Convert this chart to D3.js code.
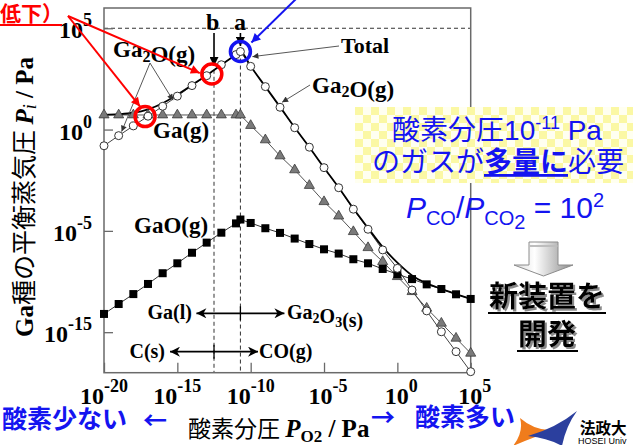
<!DOCTYPE html>
<html>
<head>
<meta charset="utf-8">
<script src="https://cdn.jsdelivr.net/npm/d3@7"></script>
<style>
  html, body { margin: 0; padding: 0; background: #fff; }
  svg { display: block; }
</style>
</head>
<body>
<script>
// Oxygen partial pressure (log10 Pa) at each computed point; -10.7 is point "a"
const logPO2 = [-20,-19,-18,-17,-16,-15,-14,-13,-12,-11,-10.7,-10,-9,-8,-7,-6,-5,-4,-3,-2,-1,0,1,2,3,4,5];
// Equilibrium vapour pressures of Ga species, log10 Pa
const gaG   = [0.72,0.72,0.72,0.72,0.72,0.72,0.72,0.72,0.72,0.72,0.72,0.2,-0.51,-1.3,-1.99,-2.76,-3.56,-4.27,-5.04,-5.83,-6.52,-7.26,-8.0,-8.82,-9.56,-10.3,-11.04];
const ga2OG = [-0.8,-0.3,0.18,0.66,1.15,1.65,2.17,2.66,3.2,3.7,3.85,3.12,2.12,1.1,0.09,-0.87,-1.88,-2.87,-3.93,-4.92,-5.94,-6.85,-7.92,-8.95,-9.98,-10.96,-11.95];
const gaOG  = [-9.1,-8.61,-8.12,-7.62,-7.09,-6.6,-6.08,-5.58,-5.09,-4.63,-4.44,-4.61,-4.87,-5.1,-5.38,-5.65,-5.91,-6.12,-6.4,-6.6,-6.88,-7.14,-7.38,-7.64,-7.87,-8.13,-8.36];
const totalP = [0.73,0.76,0.83,1.0,1.3,1.73,2.2,2.68,3.2,3.7,3.85,3.12,2.12,1.12,0.1,-0.87,-1.88,-2.86,-3.9,-4.86,-5.8,-6.57,-7.2,-7.59,-7.86,-8.12,-8.36];

// Axis ticks and the exponents printed beside them
const xTickValues = [1e-20,1e-15,1e-10,1e-5,1e0,1e5];
const xTickLabels = ["-20","-15","-10","-5","0","5"];
const yTickValues = [1e5,1e0,1e-5,1e-10];
const yTickLabels = ["5","0","-5","-15"];

// Phase boundaries: a = Ga(l)/Ga2O3(s), b = C(s)/CO(g)
const aLogPO2 = -10.7;
const bLogPO2 = -12.5;
const bLogP = 2.95;

const SERIF = "'Liberation Serif','Times New Roman',serif";
const SANS = "'Liberation Sans',Arial,'Noto Sans CJK JP',sans-serif";
const CJK = "'Noto Sans CJK JP','Noto Sans',sans-serif";
const BLUE = "#1414f0";
const RED = "#ff0000";

const W = 633, H = 445;
const svg = d3.select("body").append("svg").attr("width", W).attr("height", H);
const defs = svg.append("defs");

function marker(id, color, w, h, stealth) {
  defs.append("marker").attr("id", id)
    .attr("viewBox", "0 0 10 10").attr("refX", 10).attr("refY", 5)
    .attr("markerUnits", "userSpaceOnUse")
    .attr("markerWidth", w).attr("markerHeight", h)
    .attr("orient", "auto-start-reverse")
    .append("path")
    .attr("d", stealth ? "M0,0 L10,5 L0,10 L3,5 Z" : "M0,0 L10,5 L0,10 Z")
    .attr("fill", color);
}
marker("hBlack", "#000", 9, 9, false);
marker("hLead", "#333", 8, 6, false);
marker("hPhase", "#000", 14, 10, true);
marker("hRed", RED, 11, 9, false);
marker("hBlue", BLUE, 11, 9, false);

// yellow checker tile for the note box
const pat = defs.append("pattern").attr("id", "chk")
  .attr("patternUnits", "userSpaceOnUse").attr("width", 16).attr("height", 16)
  .attr("x", 355).attr("y", 107);
pat.append("rect").attr("width", 16).attr("height", 16).attr("fill", "#fffff0");
pat.append("rect").attr("width", 8).attr("height", 8).attr("fill", "#fbf8a4");
pat.append("rect").attr("x", 8).attr("y", 8).attr("width", 8).attr("height", 8).attr("fill", "#fbf8a4");

const grad = defs.append("linearGradient").attr("id", "arrowGrad")
  .attr("x1", "0").attr("x2", "1").attr("y1", "0").attr("y2", "0");
grad.append("stop").attr("offset", "0").attr("stop-color", "#d8d8d8");
grad.append("stop").attr("offset", "0.35").attr("stop-color", "#ffffff");
grad.append("stop").attr("offset", "1").attr("stop-color", "#8a8a8a");

// Scales
const x = d3.scaleLog().domain([1e-20, 1e5]).range([104, 470.7]);
const y = d3.scaleLog().domain([1e-12, 1e6]).range([372.7, 8]);
const px = e => x(Math.pow(10, e));
const py = e => y(Math.pow(10, e));

const plot = svg.append("g");

// 1 atm reference line and phase-boundary lines
plot.append("line")
  .attr("x1", x.range()[0]).attr("x2", x.range()[1])
  .attr("y1", y(1e5)).attr("y2", y(1e5))
  .attr("stroke", "#333").attr("stroke-width", 1).attr("stroke-dasharray", "4,3");
plot.append("line")
  .attr("x1", px(bLogPO2)).attr("x2", px(bLogPO2))
  .attr("y1", py(bLogP)).attr("y2", y.range()[0])
  .attr("stroke", "#333").attr("stroke-width", 1).attr("stroke-dasharray", "4,3");
plot.append("line")
  .attr("x1", px(aLogPO2)).attr("x2", px(aLogPO2))
  .attr("y1", py(3.85)).attr("y2", y.range()[0])
  .attr("stroke", "#333").attr("stroke-width", 1).attr("stroke-dasharray", "4,3");

// Axes with inward ticks
const xAxis = d3.axisBottom(x).tickValues(xTickValues).tickSize(-10).tickFormat(() => "");
const yAxis = d3.axisLeft(y).tickValues(yTickValues).tickSize(-9).tickFormat(() => "");
const gx = plot.append("g").attr("transform", `translate(0,${y.range()[0]})`).call(xAxis);
const gy = plot.append("g").attr("transform", `translate(${x.range()[0]},0)`).call(yAxis);
[gx, gy].forEach(g => {
  g.select(".domain").remove();
  g.selectAll(".tick line").attr("stroke", "#6a6a6a").attr("stroke-width", 1.3);
});
// frame
plot.append("rect")
  .attr("x", x.range()[0]).attr("y", y.range()[1])
  .attr("width", x.range()[1] - x.range()[0]).attr("height", y.range()[0] - y.range()[1])
  .attr("fill", "none").attr("stroke", "#6a6a6a").attr("stroke-width", 1.5);

function powLabel(g, xx, yy, exp, anchor) {
  const t = g.append("text").attr("x", xx).attr("y", yy).attr("text-anchor", anchor)
    .attr("font-family", SERIF).attr("font-weight", "bold").attr("font-size", 24).attr("fill", "#000");
  t.append("tspan").text("10");
  t.append("tspan").attr("dy", -12).attr("font-size", 18).text(exp);
}
xTickValues.forEach((v, i) => powLabel(svg, x(v) + (+xTickLabels[i] > -10 ? 4 : 0), 404, xTickLabels[i], "middle"));
yTickValues.forEach((v, i) => powLabel(svg, 92, y(v) + 10, yTickLabels[i], "end"));

// Series lines
const line = d3.line().x((d, i) => px(logPO2[i])).y(d => py(d));
plot.append("path").datum(gaG).attr("d", line).attr("fill", "none").attr("stroke", "#555").attr("stroke-width", 1);
plot.append("path").datum(ga2OG).attr("d", line).attr("fill", "none").attr("stroke", "#444").attr("stroke-width", 1);
plot.append("path").datum(gaOG).attr("d", line).attr("fill", "none").attr("stroke", "#333").attr("stroke-width", 1);
plot.append("path").datum(totalP).attr("d", line.curve(d3.curveMonotoneX)).attr("fill", "none")
  .attr("stroke", "#000").attr("stroke-width", 1.8);

// Markers
plot.append("g").selectAll("path").data(gaG).join("path")
  .attr("d", d3.symbol(d3.symbolTriangle, 44)())
  .attr("transform", (d, i) => `translate(${px(logPO2[i])},${py(d)})`)
  .attr("fill", "#7a7a7a").attr("stroke", "#3a3a3a").attr("stroke-width", 0.8);
plot.append("g").selectAll("rect").data(gaOG).join("rect")
  .attr("x", (d, i) => px(logPO2[i]) - 4).attr("y", d => py(d) - 4)
  .attr("width", 8).attr("height", 8).attr("fill", "#000");
plot.append("g").selectAll("circle").data(ga2OG).join("circle")
  .attr("cx", (d, i) => px(logPO2[i])).attr("cy", d => py(d)).attr("r", 4)
  .attr("fill", "#fff").attr("stroke", "#333").attr("stroke-width", 1);

// Series labels
function species(g, xx, yy, parts, size) {
  const t = g.append("text").attr("x", xx).attr("y", yy)
    .attr("font-family", SERIF).attr("font-weight", "bold").attr("font-size", size).attr("fill", "#000");
  parts.forEach(p => {
    if (typeof p === "string") t.append("tspan").text(p);
    else t.append("tspan").attr("font-size", size * 0.7).attr("dy", p.dy).text(p.t);
  });
  return t;
}
species(svg, 113, 57, ["Ga", {t: "2", dy: 5}, {t: "", dy: -5}, "O(g)"], 23);
species(svg, 153, 138, ["Ga(g)"], 23);
species(svg, 134, 233, ["GaO(g)"], 23);
species(svg, 312, 93, ["Ga", {t: "2", dy: 4}, {t: "", dy: -4}, "O(g)"], 23);
species(svg, 341, 53, ["Total"], 22);
species(svg, 206, 30, ["b"], 24);
species(svg, 234, 30, ["a"], 24);

// leader lines
function leader(x1, y1, x2, y2, color) {
  svg.append("line").attr("x1", x1).attr("y1", y1).attr("x2", x2).attr("y2", y2)
    .attr("stroke", color || "#444").attr("stroke-width", 0.9).attr("marker-end", "url(#hLead)");
}
leader(150, 63, px(-15.3), py(1.45));
leader(150, 63, px(-18.8), py(-0.2) - 2);
leader(339, 46, px(aLogPO2) + 12, py(3.6));
leader(310, 85, px(-8.2) + 5, py(1.3) - 1);

// arrows marking points a and b
svg.append("line").attr("x1", px(bLogPO2)).attr("x2", px(bLogPO2)).attr("y1", 33).attr("y2", 66)
  .attr("stroke", "#000").attr("stroke-width", 1.6).attr("marker-end", "url(#hBlack)");
svg.append("line").attr("x1", px(aLogPO2)).attr("x2", px(aLogPO2)).attr("y1", 33).attr("y2", 46)
  .attr("stroke", "#000").attr("stroke-width", 1.6).attr("marker-end", "url(#hBlack)");

// Stable phase ranges
function phaseArrow(center, yv) {
  const yy = py(yv);
  svg.append("line").attr("x1", px(center - 3)).attr("x2", px(center + 3)).attr("y1", yy).attr("y2", yy)
    .attr("stroke", "#000").attr("stroke-width", 1.8)
    .attr("marker-start", "url(#hPhase)").attr("marker-end", "url(#hPhase)");
  svg.append("line").attr("x1", px(center)).attr("x2", px(center)).attr("y1", yy - 7).attr("y2", yy + 7)
    .attr("stroke", "#000").attr("stroke-width", 1.3);
}
phaseArrow(aLogPO2, -9.07);
phaseArrow(bLogPO2, -10.96);
species(svg, 192, py(-9.07) + 6, ["Ga(l)"], 20).attr("text-anchor", "end");
species(svg, 287, py(-9.07) + 6, ["Ga", {t: "2", dy: 4}, {t: "", dy: -4}, "O", {t: "3", dy: 4}, {t: "", dy: -4}, "(s)"], 20);
species(svg, 165, py(-10.96) + 6, ["C(s)"], 20).attr("text-anchor", "end");
species(svg, 259, py(-10.96) + 6, ["CO(g)"], 20);

// Axis titles
const yt = svg.append("text").attr("transform", "translate(33,197) rotate(-90)")
  .attr("text-anchor", "middle").attr("font-size", 25).attr("fill", "#000");
yt.append("tspan").attr("font-family", SERIF).attr("font-weight", "bold").text("Ga");
yt.append("tspan").attr("font-family", CJK).text("種の平衡蒸気圧 ");
yt.append("tspan").attr("font-family", SERIF).attr("font-weight", "bold").attr("font-style", "italic").text("P");
yt.append("tspan").attr("font-family", SERIF).attr("font-style", "italic").attr("font-size", 18).attr("dy", 3).text("i");
yt.append("tspan").attr("font-family", SERIF).attr("font-weight", "bold").attr("dy", -3).text(" / Pa");

const xt = svg.append("text").attr("x", 188).attr("y", 437).attr("font-size", 23).attr("fill", "#000");
xt.append("tspan").attr("font-family", CJK).text("酸素分圧 ");
xt.append("tspan").attr("font-family", SERIF).attr("font-weight", "bold").attr("font-style", "italic").attr("font-size", 25).text("P");
xt.append("tspan").attr("font-family", SERIF).attr("font-weight", "bold").attr("font-size", 17).attr("dy", 5).text("O2");
xt.append("tspan").attr("font-family", SERIF).attr("font-weight", "bold").attr("font-size", 25).attr("dy", -5).text(" / Pa");

// Highlight rings and pointers
function ring(cx, cy, color) {
  svg.append("circle").attr("cx", cx).attr("cy", cy).attr("r", 10)
    .attr("fill", "none").attr("stroke", color).attr("stroke-width", 3.5);
}
svg.append("line").attr("x1", 68).attr("y1", 16).attr("x2", px(-12.65) - 12).attr("y2", py(2.74) - 1)
  .attr("stroke", RED).attr("stroke-width", 2).attr("marker-end", "url(#hRed)");
svg.append("line").attr("x1", 68).attr("y1", 16).attr("x2", px(-17.2) - 5).attr("y2", py(0.64) - 10)
  .attr("stroke", RED).attr("stroke-width", 2).attr("marker-end", "url(#hRed)");
svg.append("line").attr("x1", 297).attr("y1", -2).attr("x2", px(aLogPO2) + 11).attr("y2", py(3.85) - 9)
  .attr("stroke", BLUE).attr("stroke-width", 2).attr("marker-end", "url(#hBlue)");
ring(px(-12.65), py(2.74), RED);
ring(px(-17.2), py(0.64), RED);
ring(px(aLogPO2), py(3.85), BLUE);

// red caption at the top-left
svg.append("text").attr("x", 0).attr("y", 21).attr("font-family", CJK).attr("font-weight", "bold")
  .attr("font-size", 21).attr("fill", RED).text("低下）");
svg.append("line").attr("x1", 0).attr("x2", 62).attr("y1", 25).attr("y2", 25)
  .attr("stroke", RED).attr("stroke-width", 2);

// Note box
svg.append("rect").attr("x", 355).attr("y", 107).attr("width", W - 355).attr("height", 76).attr("fill", "url(#chk)");
const n1 = svg.append("text").attr("x", 497).attr("y", 140).attr("text-anchor", "middle")
  .attr("font-size", 28).attr("fill", BLUE);
n1.append("tspan").attr("font-family", CJK).text("酸素分圧");
n1.append("tspan").attr("font-family", SANS).text("10");
n1.append("tspan").attr("font-family", SANS).attr("font-size", 18).attr("dy", -11).text("-11");
n1.append("tspan").attr("font-family", SANS).attr("dy", 11).text(" Pa");
const n2 = svg.append("text").attr("x", 498).attr("y", 172).attr("text-anchor", "middle")
  .attr("font-family", CJK).attr("font-size", 28).attr("fill", BLUE);
n2.append("tspan").text("のガスが");
n2.append("tspan").attr("font-weight", "bold").attr("text-decoration", "underline").text("多量に");
n2.append("tspan").text("必要");

const n3 = svg.append("text").attr("x", 505).attr("y", 218).attr("text-anchor", "middle")
  .attr("font-family", SANS).attr("font-size", 30).attr("fill", BLUE);
n3.append("tspan").attr("font-style", "italic").text("P");
n3.append("tspan").attr("font-size", 20).attr("dy", 7).text("CO");
n3.append("tspan").attr("dy", -7).text("/");
n3.append("tspan").attr("font-style", "italic").text("P");
n3.append("tspan").attr("font-size", 20).attr("dy", 7).text("CO");
n3.append("tspan").attr("font-size", 20).attr("dy", 4).text("2");
n3.append("tspan").attr("dy", -11).text(" = 10");
n3.append("tspan").attr("font-size", 20).attr("dy", -11).text("2");

// Gray block arrow
svg.append("path")
  .attr("d", "M529,242 L558,242 L558,265 L573,265 L543.5,276 L514,265 L529,265 Z")
  .attr("fill", "url(#arrowGrad)").attr("stroke", "#8c8c8c").attr("stroke-width", 1);
svg.append("line").attr("x1", 529.5).attr("x2", 557.5).attr("y1", 246).attr("y2", 246)
  .attr("stroke", "#bdbdbd").attr("stroke-width", 2);

// Emphasised caption with a soft drop shadow
const shadow = defs.append("filter").attr("id", "shadow").attr("x", "-10%").attr("y", "-10%").attr("width", "130%").attr("height", "140%");
shadow.append("feDropShadow").attr("dx", 2).attr("dy", 2).attr("stdDeviation", 0.6).attr("flood-color", "#8a8a8a");
function bold3d(txt, cx, yy) {
  svg.append("text").attr("x", cx).attr("y", yy).attr("text-anchor", "middle")
    .attr("font-family", CJK).attr("font-weight", "bold").attr("font-size", 29).attr("fill", "#000")
    .attr("filter", "url(#shadow)").text(txt);
}
bold3d("新装置を", 547, 307);
svg.append("line").attr("x1", 488).attr("x2", 606).attr("y1", 313).attr("y2", 313).attr("stroke", "#000").attr("stroke-width", 2.2);
bold3d("開発", 547, 345);
svg.append("line").attr("x1", 517).attr("x2", 578).attr("y1", 351).attr("y2", 351).attr("stroke", "#000").attr("stroke-width", 2.2);

// Direction captions under the axis
svg.append("text").attr("x", 2).attr("y", 428).attr("font-family", CJK).attr("font-weight", "bold")
  .attr("font-size", 25).attr("fill", BLUE).text("酸素少ない");
svg.append("text").attr("x", 143).attr("y", 429).attr("font-family", CJK).attr("font-weight", "bold")
  .attr("font-size", 24).attr("fill", BLUE).text("←");
svg.append("text").attr("x", 371).attr("y", 426).attr("font-family", CJK).attr("font-weight", "bold")
  .attr("font-size", 24).attr("fill", BLUE).text("→");
svg.append("text").attr("x", 415).attr("y", 426).attr("font-family", CJK).attr("font-weight", "bold")
  .attr("font-size", 25).attr("fill", BLUE).text("酸素多い");

// University mark
svg.append("path").attr("d", "M520,418 Q536,432 556,430 Q536,436 513,446 Q524,432 520,418 Z").attr("fill", "#f07c1c");
svg.append("path").attr("d", "M577,411 Q556,428 528,436 Q548,438 562,446 Q566,426 577,411 Z").attr("fill", "#2b3f9e");
svg.append("text").attr("x", 580).attr("y", 434).attr("font-family", CJK).attr("font-weight", "bold")
  .attr("font-size", 15.5).attr("fill", "#000").text("法政大");
svg.append("text").attr("x", 578).attr("y", 444).attr("font-family", SANS)
  .attr("font-size", 9).attr("fill", "#000").text("HOSEI Univ");
</script>
</body>
</html>
